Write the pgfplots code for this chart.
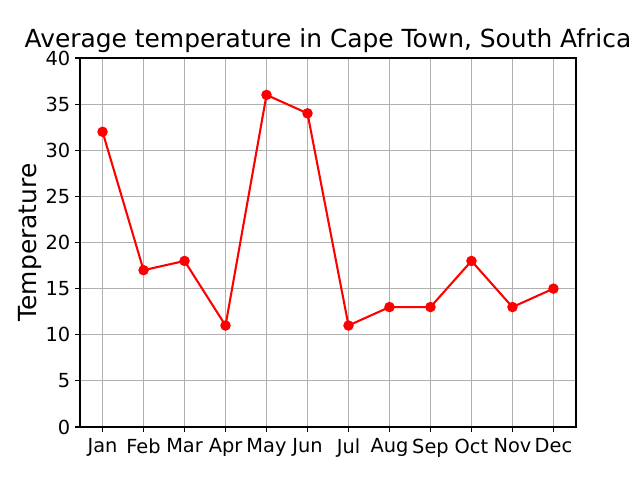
\documentclass[border=0pt]{standalone}
\usepackage{pgfplots}
\pgfplotsset{compat=1.18}
\usepackage{fontspec}
\setmainfont{DejaVu Sans}
\begin{document}
\begin{tikzpicture}
\useasboundingbox (0,0) rectangle (6.4in,4.8in);
\begin{axis}[
  at={(0.8in,0.53in)}, anchor=south west,
  scale only axis, width=4.96in, height=3.69in,
  xmin=-0.55, xmax=11.55, ymin=0, ymax=40,
  xtick={0,...,11},
  xticklabels={Jan,Feb,Mar,Apr,May,Jun,Jul,Aug,Sep,Oct,Nov,Dec},
  ytick={0,5,...,40},
  grid=major,
  grid style={color=black!31, line width=0.8pt},
  axis line style={line width=0.8pt},
  tick style={black, line width=0.8pt},
  tick align=outside, major tick length=3.5pt,
  xtick pos=bottom, ytick pos=left,
  tick label style={font=\fontsize{14}{16}\selectfont},
  xticklabel style={yshift=-1.5pt},
  /pgf/number format/assume math mode=true,
  title={Average temperature in Cape Town, South Africa},
  title style={font=\fontsize{18}{20}\selectfont, yshift=-5.5pt},
  ylabel={Temperature},
  ylabel style={font=\fontsize{18}{20}\selectfont, yshift=-4pt},
]
\addplot[red, line width=1.5pt, mark=*, mark size=3pt, mark options={fill=red}]
coordinates {(0,32)(1,17)(2,18)(3,11)(4,36)(5,34)(6,11)(7,13)(8,13)(9,18)(10,13)(11,15)};
\end{axis}
\end{tikzpicture}
\end{document}
